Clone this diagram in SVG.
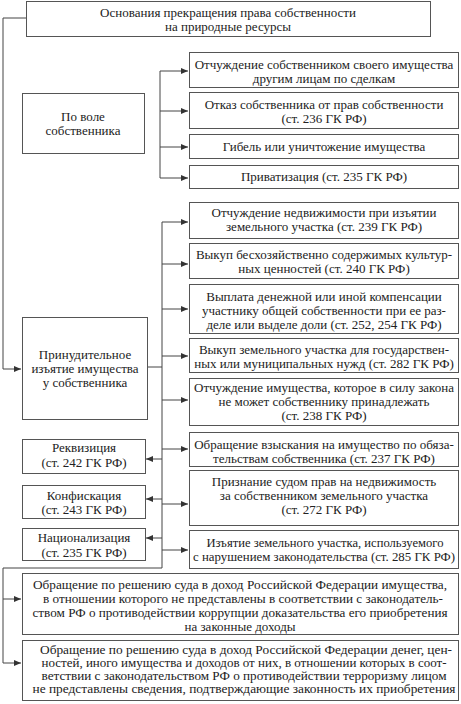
<svg xmlns="http://www.w3.org/2000/svg" width="461" height="704" viewBox="0 0 461 704">
<style>
.box{fill:#fff;stroke:#555;stroke-width:1}
.t{font-family:"Liberation Serif","Times New Roman",serif;font-size:13px;fill:#222;text-anchor:middle}
.s{font-size:12.5px}
.c{fill:none;stroke:#444;stroke-width:1}
</style>
<defs>
<marker id="ah" markerWidth="7" markerHeight="6" refX="7" refY="3" orient="auto" markerUnits="userSpaceOnUse">
<path d="M0,0 L7,3 L0,6 z" fill="#333"/>
</marker>
</defs>
<rect width="461" height="704" fill="#fff"/>
<g id="connectors">
<path class="c" d="M26,18 H3 V369 H21" marker-end="url(#ah)"/>
<path class="c" d="M160,71 V178"/>
<path class="c" d="M160,71 H188" marker-end="url(#ah)"/>
<path class="c" d="M160,111 H188" marker-end="url(#ah)"/>
<path class="c" d="M160,147 H188" marker-end="url(#ah)"/>
<path class="c" d="M160,178 H188" marker-end="url(#ah)"/>
<path class="c" d="M147,367 H162"/>
<path class="c" d="M162,222 V568 H3 V663 H21" marker-end="url(#ah)"/>
<path class="c" d="M3,599 H21" marker-end="url(#ah)"/>
<path class="c" d="M162,222 H188" marker-end="url(#ah)"/>
<path class="c" d="M162,264 H188" marker-end="url(#ah)"/>
<path class="c" d="M162,309 H188" marker-end="url(#ah)"/>
<path class="c" d="M162,356 H188" marker-end="url(#ah)"/>
<path class="c" d="M162,400 H188" marker-end="url(#ah)"/>
<path class="c" d="M162,449 H188" marker-end="url(#ah)"/>
<path class="c" d="M162,504 H188" marker-end="url(#ah)"/>
<path class="c" d="M162,550 H188" marker-end="url(#ah)"/>
<path class="c" d="M162,459 H146" marker-end="url(#ah)"/>
<path class="c" d="M162,499 H146" marker-end="url(#ah)"/>
<path class="c" d="M162,538 H146" marker-end="url(#ah)"/>
</g>
<g id="root">
<rect class="box" x="26.5" y="1.5" width="404" height="35"/>
<text class="t" x="228" y="17">Основания прекращения права собственности</text>
<text class="t" x="228" y="31">на природные ресурсы</text>
</g>
<g id="voluntary">
<rect class="box" x="22.5" y="93.5" width="122" height="60"/>
<text class="t" x="83" y="121">По воле</text>
<text class="t" x="83" y="135">собственника</text>
</g>
<g id="n1">
<rect class="box" x="189.5" y="52.5" width="269" height="35"/>
<text class="t" x="324" y="68.5">Отчуждение собственником своего имущества</text>
<text class="t" x="324" y="82.5">другим лицам по сделкам</text>
</g>
<g id="n2">
<rect class="box" x="189.5" y="92.5" width="269" height="36"/>
<text class="t" x="324" y="108.5">Отказ собственника от прав собственности</text>
<text class="t" x="324" y="122.5">(ст. 236 ГК РФ)</text>
</g>
<g id="n3">
<rect class="box" x="189.5" y="134.5" width="269" height="24"/>
<text class="t" x="324" y="151">Гибель или уничтожение имущества</text>
</g>
<g id="n4">
<rect class="box" x="189.5" y="165.5" width="269" height="23"/>
<text class="t" x="324" y="181">Приватизация (ст. 235 ГК РФ)</text>
</g>
<g id="n5">
<rect class="box" x="189.5" y="202.5" width="269" height="36"/>
<text class="t" x="324" y="217">Отчуждение недвижимости при изъятии</text>
<text class="t" x="324" y="231">земельного участка (ст. 239 ГК РФ)</text>
</g>
<g id="n6">
<rect class="box" x="189.5" y="243.5" width="269" height="35"/>
<text class="t" x="324" y="259">Выкуп бесхозяйственно содержимых культур-</text>
<text class="t" x="324" y="273">ных ценностей (ст. 240 ГК РФ)</text>
</g>
<g id="n7">
<rect class="box" x="189.5" y="284.5" width="269" height="49"/>
<text class="t" x="324" y="301">Выплата денежной или иной компенсации</text>
<text class="t" x="324" y="315">участнику общей собственности при ее раз-</text>
<text class="t" x="324" y="329">деле или выделе доли (ст. 252, 254 ГК РФ)</text>
</g>
<g id="n8">
<rect class="box" x="189.5" y="338.5" width="269" height="34"/>
<text class="t" x="324" y="354">Выкуп земельного участка для государствен-</text>
<text class="t" x="324" y="368">ных или муниципальных нужд (ст. 282 ГК РФ)</text>
</g>
<g id="n9">
<rect class="box" x="189.5" y="378.5" width="269" height="47"/>
<text class="t" x="324" y="392" textLength="260" lengthAdjust="spacingAndGlyphs">Отчуждение имущества, которое в силу закона</text>
<text class="t" x="324" y="406">не может собственнику принадлежать</text>
<text class="t" x="324" y="420">(ст. 238 ГК РФ)</text>
</g>
<g id="n10">
<rect class="box" x="189.5" y="432.5" width="269" height="34"/>
<text class="t" x="324" y="448.5">Обращение взыскания на имущество по обяза-</text>
<text class="t" x="324" y="462.5">тельствам собственника (ст. 237 ГК РФ)</text>
</g>
<g id="n11">
<rect class="box" x="189.5" y="470.5" width="269" height="55"/>
<text class="t" x="324" y="486">Признание судом прав на недвижимость</text>
<text class="t" x="324" y="500">за собственником земельного участка</text>
<text class="t" x="324" y="514">(ст. 272 ГК РФ)</text>
</g>
<g id="n12">
<rect class="box" x="189.5" y="530.5" width="269" height="38"/>
<text class="t" x="325" y="547" textLength="237" lengthAdjust="spacingAndGlyphs">Изъятие земельного участка, используемого</text>
<text class="t" x="324" y="561" textLength="262" lengthAdjust="spacingAndGlyphs">с нарушением законодательства (ст. 285 ГК РФ)</text>
</g>
<g id="forced">
<rect class="box" x="22.5" y="317.5" width="125" height="102"/>
<text class="t" x="85" y="359">Принудительное</text>
<text class="t" x="85" y="373">изъятие имущества</text>
<text class="t" x="85" y="387">у собственника</text>
</g>
<g id="requisition">
<rect class="box" x="22.5" y="439.5" width="123" height="34"/>
<text class="t" x="84" y="452">Реквизиция</text>
<text class="t" x="84" y="467">(ст. 242 ГК РФ)</text>
</g>
<g id="confiscation">
<rect class="box" x="22.5" y="485.5" width="123" height="33"/>
<text class="t" x="84" y="500">Конфискация</text>
<text class="t" x="84" y="514">(ст. 243 ГК РФ)</text>
</g>
<g id="nationalization">
<rect class="box" x="22.5" y="528.5" width="123" height="32"/>
<text class="t" x="84" y="542">Национализация</text>
<text class="t" x="84" y="557">(ст. 235 ГК РФ)</text>
</g>
<g id="corruption">
<rect class="box" x="22.5" y="573.5" width="436" height="61"/>
<text class="t" x="240" y="589" textLength="414" lengthAdjust="spacingAndGlyphs">Обращение по решению суда в доход Российской Федерации имущества,</text>
<text class="t" x="243" y="603" textLength="400" lengthAdjust="spacingAndGlyphs">в отношении которого не представлены в соответствии с законодатель-</text>
<text class="t" x="240" y="617" textLength="415" lengthAdjust="spacingAndGlyphs">ством РФ о противодействии коррупции доказательства его приобретения</text>
<text class="t" x="240" y="631">на законные доходы</text>
</g>
<g id="terrorism">
<rect class="box" x="22.5" y="640.5" width="436" height="60"/>
<text class="t s" x="246" y="654" textLength="412" lengthAdjust="spacingAndGlyphs">Обращение по решению суда в доход Российской Федерации денег, цен-</text>
<text class="t s" x="244" y="667" textLength="405" lengthAdjust="spacingAndGlyphs">ностей, иного имущества и доходов от них, в отношении которых в соот-</text>
<text class="t s" x="244" y="680" textLength="405" lengthAdjust="spacingAndGlyphs">ветствии с законодательством РФ о противодействии терроризму лицом</text>
<text class="t s" x="244" y="693" textLength="423" lengthAdjust="spacingAndGlyphs">не представлены сведения, подтверждающие законность их приобретения</text>
</g>
</svg>
